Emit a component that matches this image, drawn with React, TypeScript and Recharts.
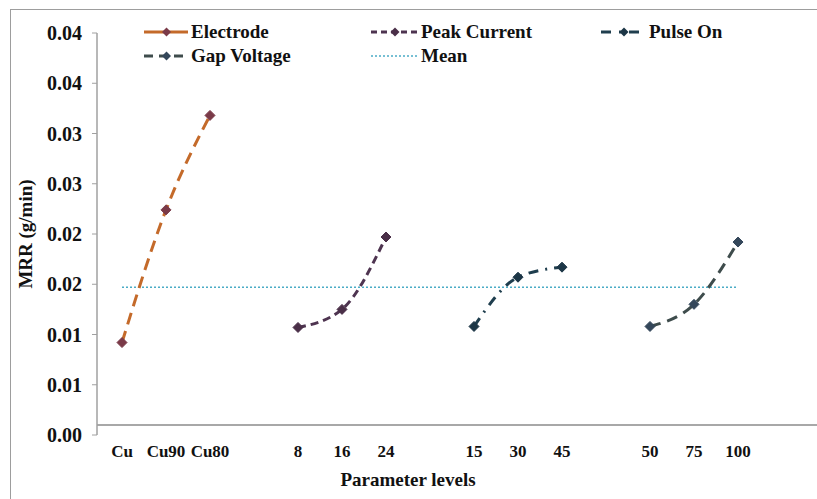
import React from "react";
import { LineChart, Line, XAxis, YAxis, ReferenceLine, Legend } from "recharts";

// ---- data ----
const categories = ["Cu", "Cu90", "Cu80", "", "8", "16", "24", "", "15", "30", "45", "", "50", "75", "100"];
const electrode = [0.0092, 0.0224, 0.0318];
const peakCurrent = [0.0107, 0.0125, 0.0197];
const pulseOn = [0.0108, 0.0157, 0.0167];
const gapVoltage = [0.0108, 0.013, 0.0192];
const meanMRR = 0.0147;
const electrodeStart = 0;
const peakStart = 4;
const pulseStart = 8;
const gapStart = 12;
const yTicks = [0, 0.005, 0.01, 0.015, 0.02, 0.025, 0.03, 0.035, 0.04];
const yTickLabels = ["0.00", "0.01", "0.01", "0.02", "0.02", "0.03", "0.03", "0.04", "0.04"];

const pick = (arr: number[], start: number, i: number) =>
  i >= start && i < start + arr.length ? arr[i - start] : null;

const data = categories.map((c, i) => ({
  idx: i,
  cat: c,
  electrode: pick(electrode, electrodeStart, i),
  peak: pick(peakCurrent, peakStart, i),
  pulse: pick(pulseOn, pulseStart, i),
  gap: pick(gapVoltage, gapStart, i),
  mean: meanMRR,
}));

const FONT = "Liberation Serif";

const styles = {
  electrode: { stroke: "#C46A2A", dash: "12 7", marker: "#7A3A48" },
  peak: { stroke: "#4E3450", dash: "8 5", marker: "#4A2F48" },
  pulse: { stroke: "#1F3E4E", dash: "10 7 2 7", marker: "#1C3646" },
  gap: { stroke: "#3E4C4C", dash: "11 7", marker: "#34475A" },
  mean: { stroke: "#4BACC6", dash: "2 2" },
};

const diamond = (color: string) => (props: any) => {
  const { cx, cy, key } = props;
  if (cx == null || cy == null || props.value == null) return <g key={key} />;
  const r = 5;
  return (
    <polygon
      key={key}
      points={`${cx},${cy - r} ${cx + r},${cy} ${cx},${cy + r} ${cx - r},${cy}`}
      fill={color}
      stroke={color}
      strokeWidth={1}
    />
  );
};

const legendItems = [
  { name: "Electrode", s: styles.electrode, left: 143, top: 21, w: 47, dash: "14 0" },
  { name: "Peak Current", s: styles.peak, left: 370, top: 21, w: 50, dash: "6 4" },
  { name: "Pulse On", s: styles.pulse, left: 600, top: 21, w: 48, dash: "10 8 2 8" },
  { name: "Gap Voltage", s: styles.gap, left: 143, top: 45, w: 47, dash: "9 6" },
  { name: "Mean", s: styles.mean, left: 370, top: 45, w: 50, dash: "2 2" },
];

const renderLegend = () => (
  <div style={{ position: "relative", width: 817, height: 80 }}>
    {legendItems.map((it) => (
      <div
        key={it.name}
        style={{ position: "absolute", left: it.left, top: it.top, display: "flex", alignItems: "center", height: 22 }}
      >
        <svg width={it.w} height={14} style={{ display: "block" }}>
          <line
            x1={1}
            y1={7}
            x2={it.w - 2}
            y2={7}
            stroke={it.s.stroke}
            strokeWidth={it.name === "Mean" ? 1.5 : 3}
            strokeDasharray={it.dash}
          />
          {"marker" in it.s ? (
            <polygon
              points={`${it.w / 2},2.5 ${it.w / 2 + 4.5},7 ${it.w / 2},11.5 ${it.w / 2 - 4.5},7`}
              fill={(it.s as any).marker}
            />
          ) : null}
        </svg>
        <span style={{ fontFamily: FONT, fontWeight: 700, fontSize: 19, color: "#111", marginLeft: 1, whiteSpace: "nowrap" }}>
          {it.name}
        </span>
      </div>
    ))}
  </div>
);

const YLabel = (props: any) => {
  const vb = props.viewBox || {};
  const x = vb.x - 12;
  const y = vb.y + vb.height / 2;
  return (
    <text
      x={x}
      y={y}
      transform={`rotate(-90, ${x}, ${y})`}
      textAnchor="middle"
      dominantBaseline="central"
      style={{ fontFamily: FONT, fontWeight: 700, fontSize: 19 }}
      fill="#111"
    >
      MRR (g/min)
    </text>
  );
};

export default function App() {
  return (
    <div style={{ position: "fixed", left: 0, top: 0, width: 817, height: 499, overflow: "hidden", background: "#fff", fontFamily: FONT }}>
      <div
        style={{
          position: "absolute",
          left: 10,
          top: 9,
          width: 900,
          height: 600,
          border: "1.5px solid #9d9d9d",
        }}
      />
      <div style={{ position: "absolute", left: 0, top: 0 }}>
        <LineChart width={817} height={499} data={data} margin={{ top: 33, right: 0, bottom: 34, left: 37 }}>
          <XAxis
            dataKey="idx"
            type="category"
            tickFormatter={(v: any) => categories[v]}
            axisLine={false}
            tickLine={false}
            interval={0}
            padding={{ left: 25, right: 79 }}
            tick={{ fontFamily: FONT, fontWeight: 700, fontSize: 17, fill: "#111" }}
            tickMargin={4}
            label={{
              value: "Parameter levels",
              position: "bottom",
              dx: -49,
              dy: 3,
              style: { fontFamily: FONT, fontWeight: 700, fontSize: 19, fill: "#111" },
            }}
          />
          <YAxis
            domain={[0, 0.04]}
            ticks={yTicks}
            interval={0}
            width={60}
            tickFormatter={(v: any) => yTickLabels[yTicks.indexOf(v)] ?? ""}
            axisLine={{ stroke: "#a0a0a0", strokeWidth: 1.5 }}
            tickLine={{ stroke: "#a0a0a0" }}
            tickSize={5}
            tickMargin={10}
            tick={{ fontFamily: FONT, fontWeight: 700, fontSize: 20, fill: "#111" }}
            label={<YLabel />}
          />
          <ReferenceLine y={0.001} stroke="#a8a8a8" strokeWidth={2} />
          <Legend
            layout="vertical"
            verticalAlign="middle"
            align="center"
            content={renderLegend}
            wrapperStyle={{ top: 0, left: 0, width: 817, height: 80 }}
          />
          <Line
            dataKey="mean"
            name="Mean"
            type="linear"
            stroke={styles.mean.stroke}
            strokeWidth={1.5}
            strokeDasharray={styles.mean.dash}
            dot={false}
            isAnimationActive={false}
          />
          <Line
            dataKey="electrode"
            name="Electrode"
            type="monotone"
            stroke={styles.electrode.stroke}
            strokeWidth={3}
            strokeDasharray={styles.electrode.dash}
            dot={diamond(styles.electrode.marker)}
            isAnimationActive={false}
          />
          <Line
            dataKey="peak"
            name="Peak Current"
            type="monotone"
            stroke={styles.peak.stroke}
            strokeWidth={3}
            strokeDasharray={styles.peak.dash}
            dot={diamond(styles.peak.marker)}
            isAnimationActive={false}
          />
          <Line
            dataKey="pulse"
            name="Pulse On"
            type="monotone"
            stroke={styles.pulse.stroke}
            strokeWidth={3}
            strokeDasharray={styles.pulse.dash}
            dot={diamond(styles.pulse.marker)}
            isAnimationActive={false}
          />
          <Line
            dataKey="gap"
            name="Gap Voltage"
            type="monotone"
            stroke={styles.gap.stroke}
            strokeWidth={3}
            strokeDasharray={styles.gap.dash}
            dot={diamond(styles.gap.marker)}
            isAnimationActive={false}
          />
        </LineChart>
      </div>
    </div>
  );
}
